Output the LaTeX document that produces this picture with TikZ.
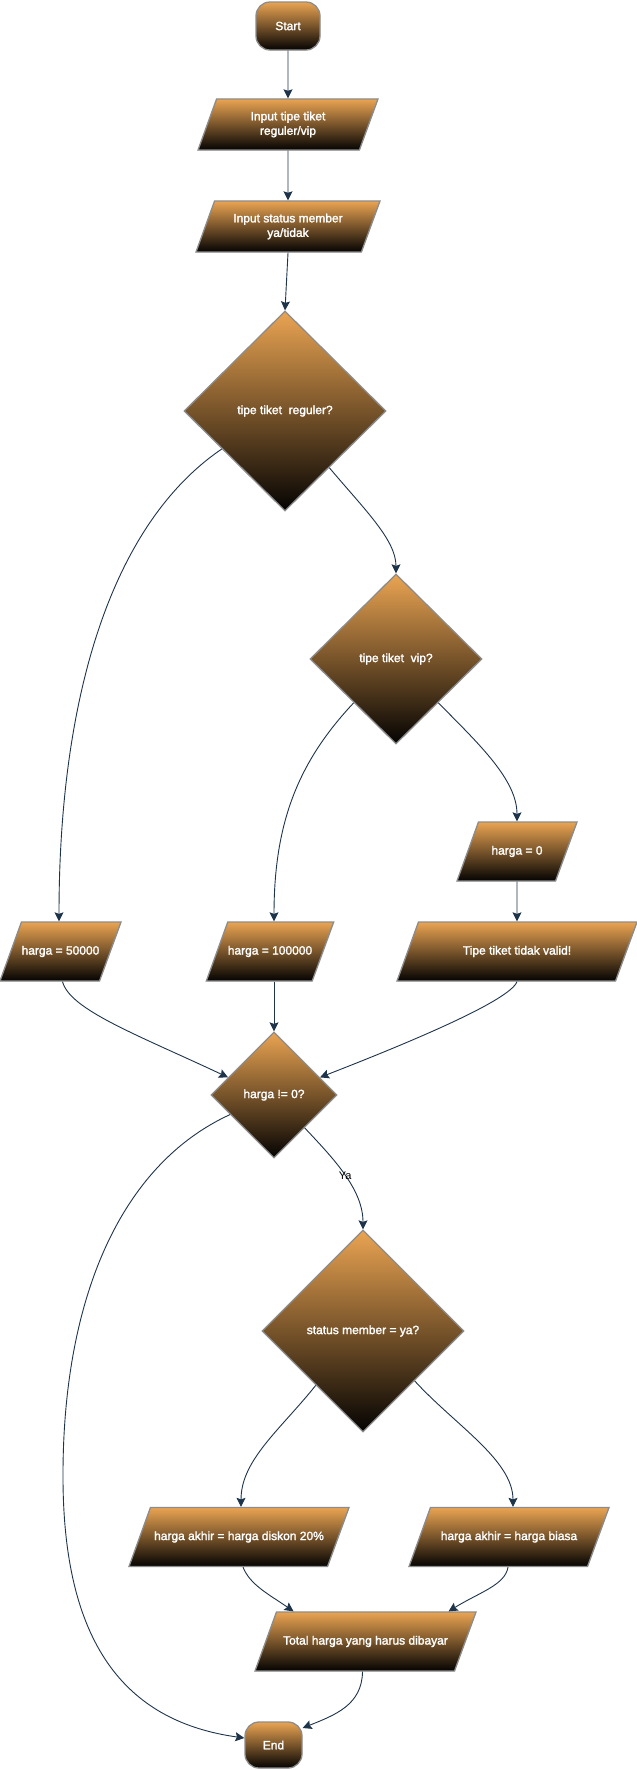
\documentclass[tikz,border=0pt]{standalone}
\usepackage{fontspec}
\setmainfont{Liberation Sans}
\newfontfamily\boxfont{Liberation Sans}[FakeBold=1.8]
\usetikzlibrary{shapes.geometric,arrows.meta}
\definecolor{topc}{RGB}{234,164,82}
\definecolor{botc}{RGB}{4,3,2}
\definecolor{bordc}{RGB}{140,140,140}
\definecolor{linec}{RGB}{30,52,74}
\begin{document}
\begin{tikzpicture}[x=1pt,y=1pt,
  flow/.style={draw=bordc, line width=1.3pt, top color=topc, bottom color=botc,
    text=white, font=\boxfont\fontsize{12}{14.5}\selectfont, align=center, inner sep=0pt},
  term/.style={flow, rectangle, rounded corners=14pt},
  iobase/.style={flow, trapezium, trapezium left angle=70, trapezium right angle=110,
    trapezium stretches body, inner xsep=0pt},
  io/.style={iobase, text height=8.6pt, text depth=2.5pt, inner ysep=23.95pt},
  iotwo/.style={iobase, inner ysep=12.7pt},
  dec/.style={flow, diamond, shape aspect=1},
  conn/.style={draw=linec, line width=0.9pt, -{Stealth[length=9pt,width=9pt,inset=1.5pt]}},
  lab/.style={text=black, font=\fontsize{11}{13}\selectfont, inner sep=1pt}
]
\fill[white] (0,0) rectangle (637,-1770);
\path[use as bounding box] (0,0) rectangle (637,-1770);

% nodes
\node[term, minimum width=64pt, minimum height=48pt] (start) at (288,-26) {Start};
\node[iotwo, minimum width=180pt, minimum height=51pt] (in1) at (288,-124.5) {Input tipe tiket\\reguler/vip};
\node[iotwo, minimum width=184pt, minimum height=51pt] (in2) at (288,-226.5) {Input status member\\ya/tidak};
\node[dec, minimum width=202pt, minimum height=200pt] (d1) at (285,-411) {tipe tiket\ \ reguler?};
\node[dec, minimum width=172pt, minimum height=170pt] (d2) at (396,-659) {tipe tiket\ \ vip?};
\node[io, minimum width=120pt, minimum height=59pt] (h0) at (517,-851.5) {harga = 0};
\node[io, minimum width=121pt, minimum height=59pt] (h50) at (60.5,-951.5) {harga = 50000};
\node[io, minimum width=120pt, minimum height=59pt] (h100) at (270,-951.5) {harga = 100000};
\node[io, minimum width=240pt, minimum height=59pt] (inv) at (517,-951.5) {Tipe tiket tidak valid!};
\node[dec, minimum width=126pt, minimum height=126pt] (d3) at (274,-1095) {harga != 0?};
\node[dec, minimum width=202pt, minimum height=202pt] (d4) at (363,-1331) {status member = ya?};
\node[io, minimum width=220pt, minimum height=59pt] (disk) at (239,-1537) {harga akhir = harga diskon 20\%};
\node[io, minimum width=200pt, minimum height=59pt] (bias) at (509,-1537) {harga akhir = harga biasa};
\node[io, minimum width=221pt, minimum height=59pt] (tot) at (365.5,-1641.5) {Total harga yang harus dibayar};
\node[term, minimum width=57pt, minimum height=46pt] (end) at (273.5,-1745) {End};

% connectors
\draw[conn] (start) -- (in1);
\draw[conn] (in1) -- (in2);
\draw[conn] (in2.south) -- (d1.north);
\draw[conn] (d1.308) .. controls (365,-510) and (396,-540) .. (d2.north);
\draw[conn] (d1.211) .. controls (110,-525) and (59,-700) .. ([xshift=-1.5pt]h50.north);
\draw[conn] (d2.226) .. controls (300,-760) and (274,-820) .. ([xshift=4pt]h100.north);
\draw[conn] (d2.314) .. controls (480,-745) and (517,-780) .. (h0.north);
\draw[conn] (h0) -- (inv);
\draw[conn] ([xshift=2pt]h50.south) .. controls (70,-1010) and (138,-1035) .. (d3.159);
\draw[conn] (d3.north |- h100.south) -- (d3.north);
\draw[conn] (inv.south) .. controls (510,-1000) and (416,-1040) .. (d3.21);
\draw[conn] (d3.313) .. controls (335,-1160) and (363,-1190) .. (d4.north) node[lab, pos=0.5] (ya) {Ya};
\draw[conn] (d3.204) .. controls (120,-1165) and (62,-1300) .. (63,-1480)
   .. controls (64,-1650) and (130,-1722) .. ([yshift=7pt]end.west);
\draw[conn] (d4.229) .. controls (280,-1430) and (241,-1460) .. ([xshift=2pt]disk.north);
\draw[conn] (d4.316) .. controls (455,-1425) and (513,-1460) .. ([xshift=4pt]bias.north);
\draw[conn] ([xshift=4pt]disk.south) .. controls (250,-1585) and (270,-1595) .. ([xshift=-72pt]tot.north);
\draw[conn] ([xshift=-1pt]bias.south) .. controls (505,-1585) and (480,-1592) .. ([xshift=83pt]tot.north);
\draw[conn] ([xshift=-3pt]tot.south) .. controls (362,-1705) and (335,-1715) .. ([yshift=17pt]end.east);
\end{tikzpicture}
\end{document}
